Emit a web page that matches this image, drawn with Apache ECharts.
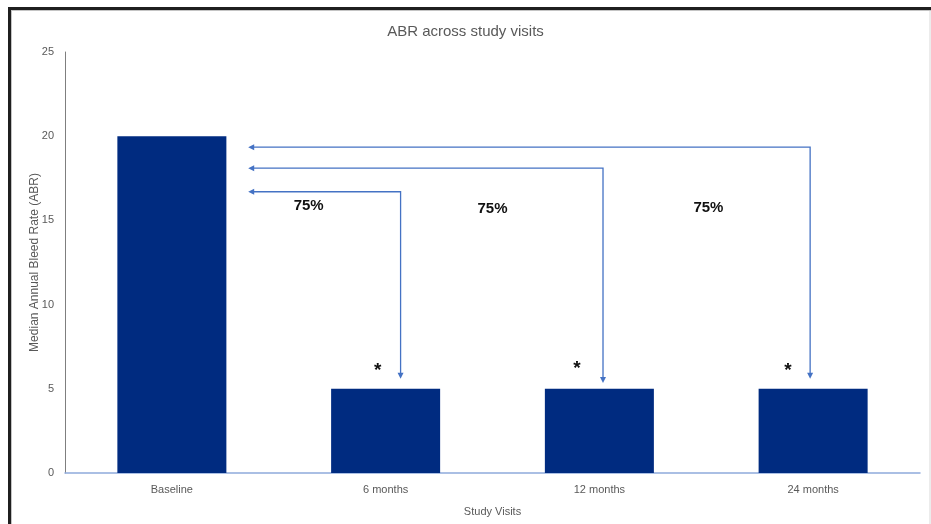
<!DOCTYPE html>
<html>
<head>
<meta charset="utf-8">
<script src="https://cdn.jsdelivr.net/npm/echarts@6/dist/echarts.min.js"></script>
<style>
  html, body { margin: 0; padding: 0; background: #ffffff; }
  #wrap { position: relative; width: 931px; height: 524px; overflow: hidden; }
  #chart { position: absolute; left: 0; top: 0; width: 931px; height: 524px; }
  #frame {
    position: absolute; left: 8px; top: 7px; right: -2px; bottom: -2px;
    border-left: 3px solid #1f1f1f; border-top: 3px solid #1f1f1f;
    pointer-events: none;
  }
  #frame::after {
    content: ""; position: absolute; left: 0; top: 0; right: 0; bottom: 0;
    border-left: 1px solid #c4c4c4; border-top: 1px solid #c4c4c4;
  }
  #edge { position: absolute; right: 0; top: 11px; bottom: 0; width: 2px; background: #ececec; }
</style>
</head>
<body>
<div id="wrap">
  <div id="chart"></div>
  <div id="frame"></div>
  <div id="edge"></div>
</div>
<script>
// Study visits and median ABR at each visit
const visits = ['Baseline', '6 months', '12 months', '24 months'];
const medianABR = [20, 5, 5, 5];
const yTicks = [0, 5, 10, 15, 20, 25];

// Reduction brackets: visit index, bracket height (ABR units), arrow end (ABR units)
const bracketVisit = [1, 2, 3];
const bracketLevel = [16.7, 18.1, 19.35];
const bracketEnd = [5.6, 5.35, 5.6];
const reductionText = ['75%', '75%', '75%'];
const reductionLevel = [15.85, 15.7, 15.75];
const significanceMark = ['*', '*', '*'];
const significanceLevel = [6.2, 6.3, 6.2];

const FONT = '"Liberation Sans", Arial, sans-serif';
const ARROW = '#4472C4';

const chart = echarts.init(document.getElementById('chart'), null, { renderer: 'canvas' });

// horizontal shift of each bracket's drop line, as a fraction of the category band
const dropShift = [0.07, 0.017, -0.014];
// shift of each "75%" label from the midpoint between neighbouring visits
const labelShift = [0.14, 0.0, 0.01];
// shift of each significance star from its bar centre
const starShift = [-0.037, -0.105, -0.118];

function arrowHead(tip, dir) {
  // dir: 'left' or 'down'
  const L = 6, W = 3;
  if (dir === 'left') {
    return [[tip[0], tip[1]], [tip[0] + L, tip[1] - W], [tip[0] + L, tip[1] + W]];
  }
  return [[tip[0], tip[1]], [tip[0] - W, tip[1] - L], [tip[0] + W, tip[1] - L]];
}

const bracketData = bracketVisit.map((v, i) => [v, bracketLevel[i], bracketEnd[i]]);
const textData = bracketVisit.map((v, i) => [v, reductionLevel[i], significanceLevel[i]]);

chart.setOption({
  animation: false,
  backgroundColor: '#ffffff',
  title: {
    text: 'ABR across study visits',
    left: 'center',
    top: 19,
    textStyle: { fontFamily: FONT, fontSize: 15, fontWeight: 'normal', color: '#595959' }
  },
  grid: { left: 65, right: 11, top: 52, bottom: 51, containLabel: false },
  xAxis: {
    type: 'category',
    data: visits,
    name: 'Study Visits',
    nameLocation: 'middle',
    nameGap: 33,
    nameTextStyle: { fontFamily: FONT, fontSize: 11, color: '#595959' },
    axisLine: { lineStyle: { color: '#8EAADB', width: 1.5 } },
    axisTick: { show: false },
    axisLabel: { fontFamily: FONT, fontSize: 11, color: '#595959', margin: 11 }
  },
  yAxis: {
    type: 'value',
    min: yTicks[0],
    max: yTicks[yTicks.length - 1],
    interval: yTicks[1] - yTicks[0],
    name: 'Median Annual Bleed Rate (ABR)',
    nameLocation: 'middle',
    nameGap: 24,
    nameMoveOverlap: false,
    nameTextStyle: { fontFamily: FONT, fontSize: 12, color: '#595959' },
    axisLine: { show: true, lineStyle: { color: '#7F7F7F', width: 1 } },
    axisTick: { show: false },
    splitLine: { show: false },
    axisLabel: { fontFamily: FONT, fontSize: 11, color: '#595959', margin: 11 }
  },
  series: [
    {
      type: 'bar',
      data: medianABR,
      barWidth: '51%',
      itemStyle: { color: '#002B80' },
      z: 2
    },
    {
      // reduction brackets from each follow-up visit back to baseline
      type: 'custom',
      data: bracketData,
      z: 3,
      renderItem: function (params, api) {
        const i = params.dataIndex;
        const band = api.size([1, 0])[0];
        const vx = api.coord([api.value(0), 0])[0] + dropShift[i] * band;
        const yTop = api.coord([0, api.value(1)])[1];
        const yEnd = api.coord([0, api.value(2)])[1];
        const baseX = api.coord([0, 0])[0];
        const tipX = baseX + band * 0.357;
        return {
          type: 'group',
          children: [
            {
              type: 'polyline',
              shape: { points: [[tipX + 5, yTop], [vx, yTop], [vx, yEnd - 5]] },
              style: { stroke: ARROW, lineWidth: 1.3, fill: null }
            },
            { type: 'polygon', shape: { points: arrowHead([tipX, yTop], 'left') }, style: { fill: ARROW } },
            { type: 'polygon', shape: { points: arrowHead([vx, yEnd], 'down') }, style: { fill: ARROW } }
          ]
        };
      }
    },
    {
      // percentage reduction labels and significance stars
      type: 'custom',
      data: textData,
      z: 4,
      renderItem: function (params, api) {
        const i = params.dataIndex;
        const band = api.size([1, 0])[0];
        const cx = api.coord([api.value(0), 0])[0];
        const lx = cx - band * 0.5 + labelShift[i] * band;
        const ly = api.coord([0, api.value(1)])[1];
        const sx = cx + starShift[i] * band;
        const sy = api.coord([0, api.value(2)])[1];
        return {
          type: 'group',
          children: [
            {
              type: 'text',
              style: {
                x: lx, y: ly, text: reductionText[i],
                font: 'bold 15px ' + FONT, fill: '#111111',
                textAlign: 'center', textVerticalAlign: 'middle'
              }
            },
            {
              type: 'text',
              style: {
                x: sx, y: sy + 2, text: significanceMark[i],
                font: 'bold 19px ' + FONT, fill: '#111111',
                textAlign: 'center', textVerticalAlign: 'middle'
              }
            }
          ]
        };
      }
    }
  ]
});
</script>
</body>
</html>
